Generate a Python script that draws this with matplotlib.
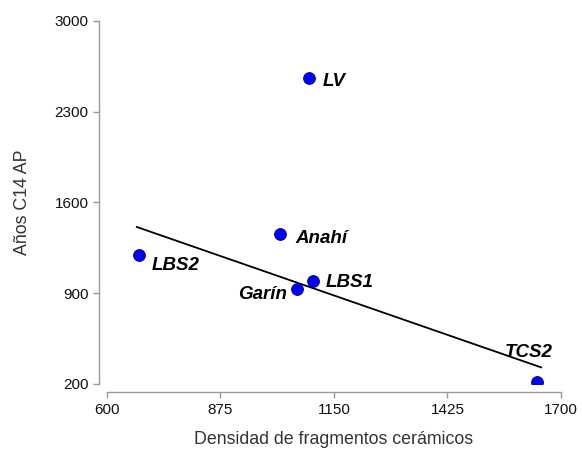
import numpy as np
import matplotlib
matplotlib.use("Agg")
import matplotlib.pyplot as plt

plt.rcParams['font.family'] = ['Liberation Sans', 'DejaVu Sans']

# sites: ceramic fragment density vs C14 age
sites = ['LBS2', 'Anahí', 'Garín', 'LV', 'LBS1', 'TCS2']
densidad = np.array([678, 1020, 1060, 1090, 1100, 1642])
edad = np.array([1192, 1354, 931, 2561, 995, 218])

xticks = [600, 875, 1150, 1425, 1700]
yticks = [200, 900, 1600, 2300, 3000]

# label offsets in points (dx, dy) and horizontal alignment
offsets = [(9, -7, 'left'), (11, -3, 'left'), (-7, -4, 'right'),
           (10, -3, 'left'), (9, -1, 'left'), (-6, 21, 'center')]

fig = plt.figure(figsize=(5.82, 4.49), dpi=100)
ax = fig.add_axes([0.1833, 0.1448, 0.7806, 0.8091])

# regression line (LV left out of the fit)
mask = np.array([s != 'LV' for s in sites])
slope, inter = np.polyfit(densidad[mask], edad[mask], 1)
xl = np.array([densidad.min() - 5, densidad.max() + 10])
ax.plot(xl, slope * xl + inter, color='black', lw=1.3, zorder=2)

ax.scatter(densidad, edad, s=70, color='#0000ff', edgecolor='#0000a0',
           linewidth=0.8, zorder=3)

for name, x, y, (dx, dy, ha) in zip(sites, densidad, edad, offsets):
    ax.annotate(name, (x, y), xytext=(dx, dy), textcoords='offset points',
                ha=ha, va='center', fontsize=13.5, fontweight='bold',
                fontstyle='italic', color='black')

ax.set_xlim(600, 1700)
ax.set_ylim(200, 3000)
ax.set_xticks(xticks)
ax.set_yticks(yticks)

for side in ['top', 'right']:
    ax.spines[side].set_visible(False)
ax.spines['left'].set_position(('outward', 5.5))
ax.spines['bottom'].set_position(('outward', 6))
ax.spines['left'].set_bounds(200, 3000)
ax.spines['bottom'].set_bounds(600, 1700)
for side in ['left', 'bottom']:
    ax.spines[side].set_color('#9a9a9a')
    ax.spines[side].set_linewidth(1.0)

ax.tick_params(axis='both', colors='#9a9a9a', labelcolor='#111111',
               labelsize=11, length=4, width=1.0)

ax.set_xlabel('Densidad de fragmentos cerámicos', fontsize=12.8,
              color='#333333', labelpad=10)
ax.set_ylabel('Años C14 AP', fontsize=12.8, color='#333333', labelpad=17)

fig.savefig('out.png', dpi=100)
